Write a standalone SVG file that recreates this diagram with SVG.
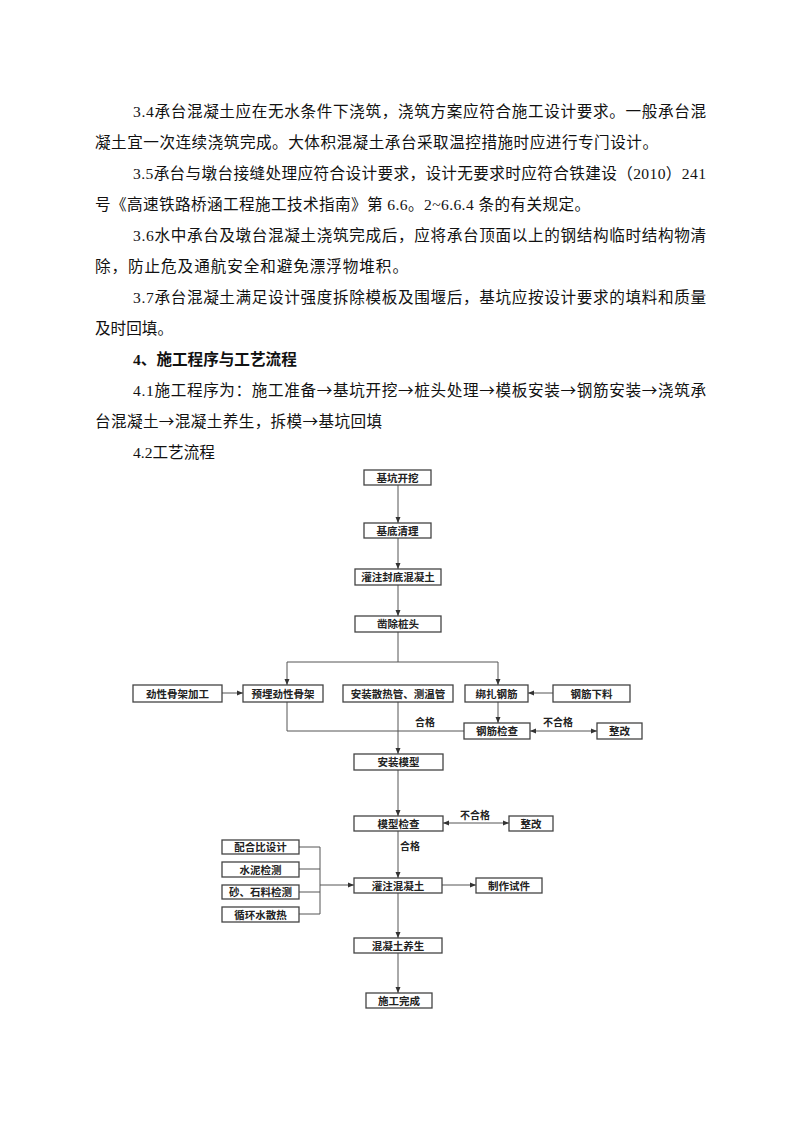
<svg xmlns="http://www.w3.org/2000/svg" width="794" height="1123" viewBox="0 0 794 1123">
<defs>
<style>
.p{font-family:"Liberation Serif","Noto Sans CJK SC",serif;font-size:15.6px;fill:#111}
.h{font-family:"Liberation Serif","Noto Sans CJK SC",serif;font-size:15.6px;font-weight:bold;fill:#111}
.ar{font-family:"Noto Sans CJK SC",sans-serif}
.box rect{fill:#fff;stroke:#444;stroke-width:1.3}
.box text{font-family:"Noto Sans CJK SC",sans-serif;font-size:10.5px;font-weight:bold;fill:#222;text-anchor:middle}
.lbl{font-family:"Noto Sans CJK SC",sans-serif;font-size:10px;font-weight:bold;fill:#222;text-anchor:middle}
.c{fill:none;stroke:#555;stroke-width:1}
</style>
<marker id="ah" viewBox="0 0 6 6" refX="6" refY="3" markerWidth="6" markerHeight="6" markerUnits="userSpaceOnUse" orient="auto-start-reverse">
<path d="M0,0.5 L6,3 L0,5.5 z" fill="#333"/>
</marker>
</defs>
<rect width="794" height="1123" fill="#fff"/>
<g id="text">
<text class="p" x="133" y="117" textLength="573" lengthAdjust="spacing">3.4承台混凝土应在无水条件下浇筑，浇筑方案应符合施工设计要求。一般承台混</text>
<text class="p" x="95" y="148" textLength="563" lengthAdjust="spacing">凝土宜一次连续浇筑完成。大体积混凝土承台采取温控措施时应进行专门设计。</text>
<text class="p" x="133" y="179" textLength="573" lengthAdjust="spacing">3.5承台与墩台接缝处理应符合设计要求，设计无要求时应符合铁建设（2010）241</text>
<text class="p" x="95" y="210" textLength="495" lengthAdjust="spacing">号《高速铁路桥涵工程施工技术指南》第 6.6。2~6.6.4 条的有关规定。</text>
<text class="p" x="133" y="241" textLength="573" lengthAdjust="spacing">3.6水中承台及墩台混凝土浇筑完成后，应将承台顶面以上的钢结构临时结构物清</text>
<text class="p" x="95" y="272" textLength="313" lengthAdjust="spacing">除，防止危及通航安全和避免漂浮物堆积。</text>
<text class="p" x="133" y="303" textLength="573" lengthAdjust="spacing">3.7承台混凝土满足设计强度拆除模板及围堰后，基坑应按设计要求的填料和质量</text>
<text class="p" x="95" y="334">及时回填。</text>
<text class="h" x="133" y="365">4、施工程序与工艺流程</text>
<text class="p" x="133" y="396" textLength="573" lengthAdjust="spacing">4.1施工程序为：施工准备<tspan class="ar">→</tspan>基坑开挖<tspan class="ar">→</tspan>桩头处理<tspan class="ar">→</tspan>模板安装<tspan class="ar">→</tspan>钢筋安装<tspan class="ar">→</tspan>浇筑承</text>
<text class="p" x="95" y="427" textLength="287" lengthAdjust="spacing">台混凝土<tspan class="ar">→</tspan>混凝土养生，拆模<tspan class="ar">→</tspan>基坑回填</text>
<text class="p" x="133" y="458">4.2工艺流程</text>
</g>
<g id="connectors">
<path class="c" d="M398,485 V523" marker-end="url(#ah)"/>
<path class="c" d="M398,538 V569" marker-end="url(#ah)"/>
<path class="c" d="M398,585 V616" marker-end="url(#ah)"/>
<path class="c" d="M398,632 V662"/>
<path class="c" d="M287,662 H498"/>
<path class="c" d="M287,662 V685" marker-end="url(#ah)"/>
<path class="c" d="M498,662 V685" marker-end="url(#ah)"/>
<path class="c" d="M222,693 H243" marker-end="url(#ah)"/>
<path class="c" d="M553,693 H528" marker-end="url(#ah)"/>
<path class="c" d="M498,702 V723" marker-end="url(#ah)"/>
<path class="c" d="M464,731 H287 V702"/>
<path class="c" d="M530,731 H597" marker-start="url(#ah)" marker-end="url(#ah)"/>
<path class="c" d="M398,702 V754" marker-end="url(#ah)"/>
<path class="c" d="M398,770 V816" marker-end="url(#ah)"/>
<path class="c" d="M443,823 H509" marker-start="url(#ah)" marker-end="url(#ah)"/>
<path class="c" d="M398,831 V878" marker-end="url(#ah)"/>
<path class="c" d="M299,847 H320 M299,869 H320 M299,892 H320 M299,914 H320 M320,847 V914"/>
<path class="c" d="M320,885 H354" marker-end="url(#ah)"/>
<path class="c" d="M442,885 H476" marker-end="url(#ah)"/>
<path class="c" d="M398,893 V938" marker-end="url(#ah)"/>
<path class="c" d="M398,953 V993" marker-end="url(#ah)"/>
<text class="lbl" x="425" y="726">合格</text>
<text class="lbl" x="558" y="726">不合格</text>
<text class="lbl" x="475" y="819">不合格</text>
<text class="lbl" x="410" y="850">合格</text>
</g>
<g id="n1" class="box"><rect x="364" y="470" width="67" height="15"/><text x="397.5" y="481.5">基坑开挖</text></g>
<g id="n2" class="box"><rect x="364" y="523" width="67" height="15"/><text x="397.5" y="534.5">基底清理</text></g>
<g id="n3" class="box"><rect x="355" y="569" width="86" height="16"/><text x="398" y="581">灌注封底混凝土</text></g>
<g id="n4" class="box"><rect x="355" y="616" width="86" height="16"/><text x="398" y="628">凿除桩头</text></g>
<g id="n5" class="box"><rect x="133" y="685" width="89" height="17"/><text x="177.5" y="697.5">劲性骨架加工</text></g>
<g id="n6" class="box"><rect x="243" y="685" width="80" height="17"/><text x="283" y="697.5">预埋劲性骨架</text></g>
<g id="n7" class="box"><rect x="343" y="685" width="110" height="17"/><text x="398" y="697.5">安装散热管、测温管</text></g>
<g id="n8" class="box"><rect x="465" y="685" width="63" height="17"/><text x="496.5" y="697.5">绑扎钢筋</text></g>
<g id="n9" class="box"><rect x="553" y="685" width="77" height="17"/><text x="591.5" y="697.5">钢筋下料</text></g>
<g id="n10" class="box"><rect x="464" y="723" width="66" height="16"/><text x="497" y="735">钢筋检查</text></g>
<g id="n11" class="box"><rect x="597" y="723" width="45" height="16"/><text x="619.5" y="735">整改</text></g>
<g id="n12" class="box"><rect x="354" y="754" width="89" height="16"/><text x="398.5" y="766">安装模型</text></g>
<g id="n13" class="box"><rect x="354" y="816" width="89" height="15"/><text x="398.5" y="827.5">模型检查</text></g>
<g id="n14" class="box"><rect x="509" y="816" width="44" height="15"/><text x="531" y="827.5">整改</text></g>
<g id="n15" class="box"><rect x="222" y="840" width="77" height="14"/><text x="260.5" y="851">配合比设计</text></g>
<g id="n16" class="box"><rect x="222" y="862" width="77" height="15"/><text x="260.5" y="873.5">水泥检测</text></g>
<g id="n17" class="box"><rect x="222" y="885" width="77" height="14"/><text x="260.5" y="896">砂、石料检测</text></g>
<g id="n18" class="box"><rect x="222" y="907" width="77" height="15"/><text x="260.5" y="918.5">循环水散热</text></g>
<g id="n19" class="box"><rect x="354" y="878" width="88" height="15"/><text x="398" y="889.5">灌注混凝土</text></g>
<g id="n20" class="box"><rect x="476" y="878" width="66" height="15"/><text x="509" y="889.5">制作试件</text></g>
<g id="n21" class="box"><rect x="354" y="938" width="88" height="15"/><text x="398" y="949.5">混凝土养生</text></g>
<g id="n22" class="box"><rect x="366" y="993" width="66" height="15"/><text x="399" y="1004.5">施工完成</text></g>
</svg>
